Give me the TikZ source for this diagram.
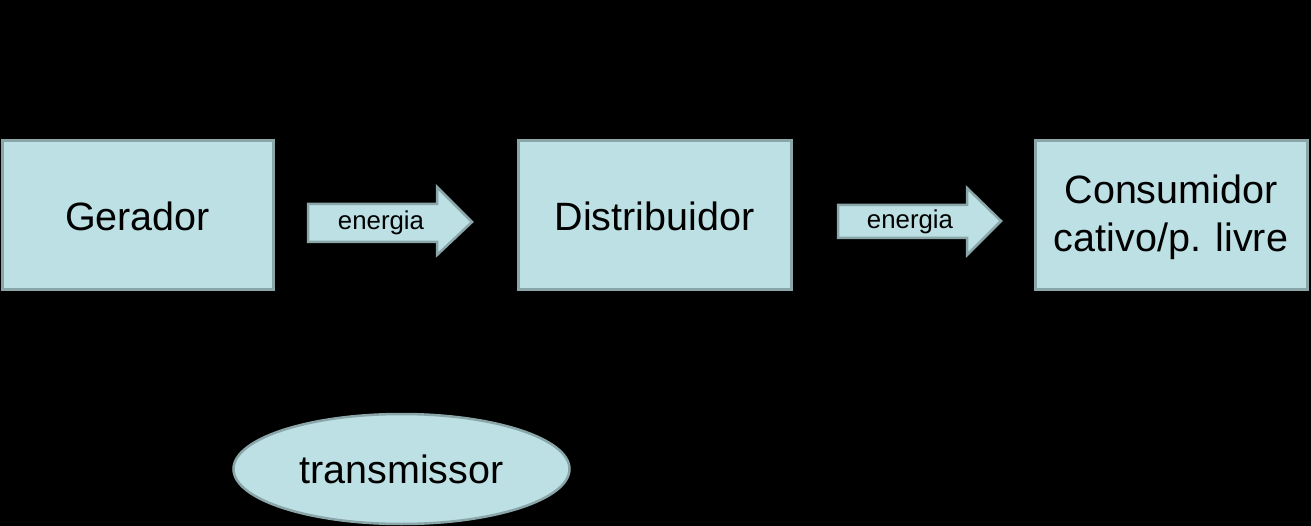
\documentclass[tikz,border=0pt]{standalone}
\usepackage{fontspec}
\setmainfont{Liberation Sans}
\usetikzlibrary{shapes.geometric}
\definecolor{boxfill}{RGB}{188,224,228}
\definecolor{boxline}{RGB}{138,166,169}
\tikzset{
  blk/.style={draw=boxline, line width=3pt, fill=boxfill, inner sep=0pt},
  lbl/.style={font=\fontsize{39.5}{48}\selectfont, text=black, align=center},
  arrlbl/.style={font=\fontsize{25.8}{30}\selectfont, text=black},
  arr/.style={draw=boxline, line width=2.5pt, fill=boxfill, line join=miter}
}
\begin{document}
\begin{tikzpicture}[x=1pt,y=-1pt]
\fill[black] (0,0) rectangle (1311,526);
\useasboundingbox (0,0) rectangle (1311,526);
% boxes
\draw[blk] (2,141) rectangle (273,290);
\node[lbl] (ger) at (137.5,216) {Gerador};
\draw[blk] (518,141) rectangle (791,290);
\node[lbl] (dis) at (654.5,216) {Distribuidor};
\draw[blk] (1035,141) rectangle (1307,290);
\node[lbl] (con) at (1171,217) {Consumidor\\cativo/p. livre};
% arrows
\draw[arr] (308,204) -- (437,204) -- (437,187) -- (472,222) -- (437,255) -- (437,242) -- (308,242) -- cycle;
\node[arrlbl] (e1) at (381,222.5) {energia};
\draw[arr] (838,205) -- (967,205) -- (967,188) -- (1001,221) -- (967,255) -- (967,238) -- (838,238) -- cycle;
\node[arrlbl] (e2) at (910,222) {energia};
% ellipse
\node[ellipse, draw=boxline, line width=2.5pt, fill=boxfill, minimum width=336pt, minimum height=110pt, inner sep=0pt] (tr) at (401.5,469) {};
\node[lbl] (trt) at (401.5,469) {transmissor};
\end{tikzpicture}
\end{document}
